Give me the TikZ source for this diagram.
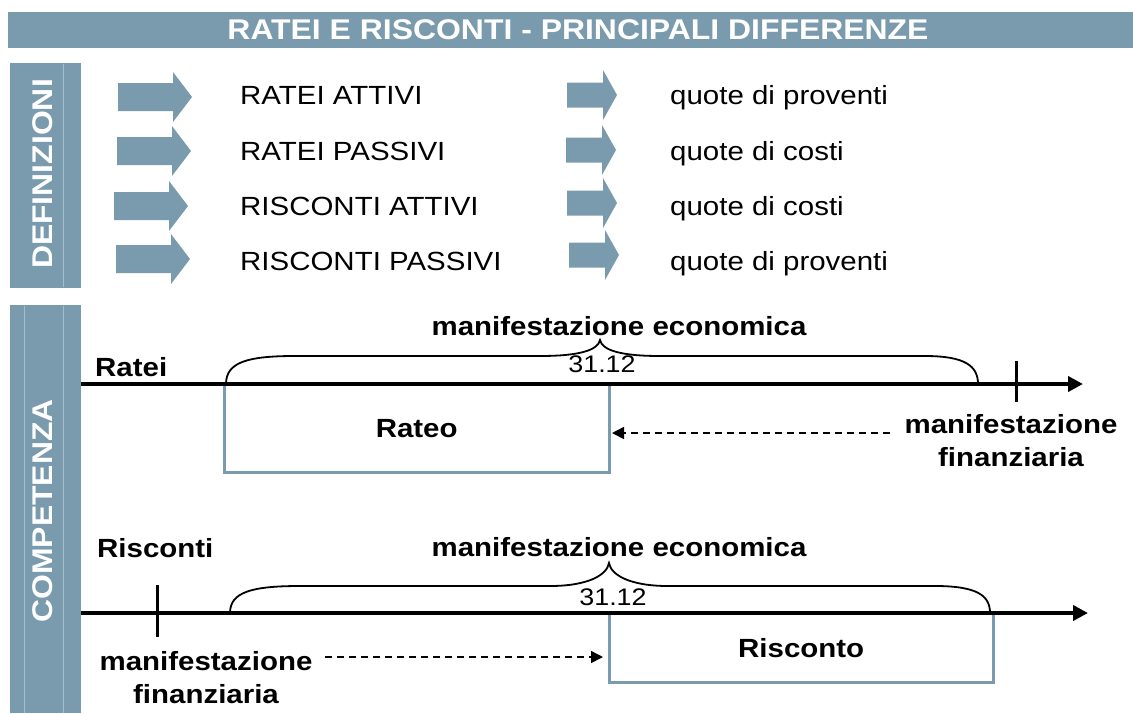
\documentclass[tikz,border=0pt]{standalone}
\usepackage{fontspec}
\setmainfont{Liberation Sans}[FakeStretch=1.12]
\usetikzlibrary{arrows.meta}
\definecolor{slate}{RGB}{122,155,173}
\definecolor{slateline}{RGB}{165,190,204}
\begin{document}
\begin{tikzpicture}[x=1pt,y=-1pt,
  bodytxt/.style={font=\fontsize{26.3}{30}\selectfont, inner sep=0pt},
  boldtxt/.style={font=\fontsize{26.3}{32.5}\selectfont\bfseries, inner sep=0pt, align=center},
  datetxt/.style={font=\fontsize{24}{28}\selectfont, inner sep=0pt},
  headtxt/.style={font=\fontsize{28.5}{32}\selectfont\bfseries, text=white, inner sep=0pt},
  bar/.style={fill=slate, inner sep=0pt, anchor=north west},
  timeline/.style={line width=4.5pt, -{Triangle[length=15pt,width=15pt]}},
  bracepath/.style={line width=1.8pt},
  boxside/.style={draw=slate, line width=3pt},
  finarrow/.style={line width=1.5pt, dash pattern=on 7pt off 5pt, -{Triangle[length=12pt,width=12pt]}},
  tickline/.style={line width=3pt},
  openbox/.style={inner sep=0pt, anchor=north west},
  bigarrow/.pic={\fill[slate] (0,-14) -- (55,-14) -- (55,-25) -- (74,0) -- (55,25) -- (55,14) -- (0,14) -- cycle;},
  smallarrow/.pic={\fill[slate] (0,-12.5) -- (36,-12.5) -- (36,-25) -- (50,0) -- (36,25) -- (36,12.5) -- (0,12.5) -- cycle;}
]
\useasboundingbox (0,0) rectangle (1133,713);
\fill[white] (0,0) rectangle (1133,713);

% header
\node[bar, minimum width=1125pt, minimum height=36pt] (header) at (8,12) {};
\node[headtxt] (title) at (578,30) {RATEI E RISCONTI - PRINCIPALI DIFFERENZE};

% side bars
\node[bar, minimum width=71pt, minimum height=225pt] (defbar) at (10,63) {};
\draw[slateline, line width=0.6pt] (63,64) -- (63,287);
\node[headtxt, rotate=90] (deftxt) at (43,174) {DEFINIZIONI};

\node[bar, minimum width=71pt, minimum height=408pt] (compbar) at (10,305) {};
\draw[slateline, line width=0.6pt] (63,306) -- (63,713);
\draw[slateline, line width=0.6pt] (24,306) -- (24,713);
\node[headtxt, rotate=90] (comptxt) at (43,511) {COMPETENZA};

% definitions
\pic at (118,97) {bigarrow};
\pic at (117,151) {bigarrow};
\pic at (114,206) {bigarrow};
\pic at (116,259) {bigarrow};
\pic at (567,95) {smallarrow};
\pic at (566,150) {smallarrow};
\pic at (567,203) {smallarrow};
\pic at (569,255) {smallarrow};

\node[bodytxt, anchor=base west] (ra) at (240,104.5) {RATEI ATTIVI};
\node[bodytxt, anchor=base west] (rp) at (240,160.5) {RATEI PASSIVI};
\node[bodytxt, anchor=base west] (sa) at (240,215) {RISCONTI ATTIVI};
\node[bodytxt, anchor=base west] (sp) at (240,270) {RISCONTI PASSIVI};
\node[bodytxt, anchor=base west] (q1) at (670,104.5) {quote di proventi};
\node[bodytxt, anchor=base west] (q2) at (670,160.5) {quote di costi};
\node[bodytxt, anchor=base west] (q3) at (670,215) {quote di costi};
\node[bodytxt, anchor=base west] (q4) at (670,270) {quote di proventi};

% ---- Ratei timeline
\node[openbox, minimum width=385pt, minimum height=88pt] (rateo) at (224,384) {};
\draw[boxside] (rateo.north west) -- (rateo.south west) -- (rateo.south east) -- (rateo.north east);
\node[boldtxt] (rateotxt) at (rateo.center) {Rateo};

\coordinate (t1s) at (81,384);
\coordinate (t1e) at (1083,384);
\draw[timeline] (t1s) -- (t1e);
\coordinate (k1a) at (1016,361);
\coordinate (k1b) at (1016,402);
\draw[tickline] (k1a) -- (k1b);

\draw[bracepath] (226,384) .. controls (226,362) and (248,356) .. (295,356) -- (540,356)
  .. controls (580,356) and (598,350) .. (600,340)
  .. controls (602,350) and (620,356) .. (660,356) -- (925,356)
  .. controls (965,356) and (978,366) .. (978,384);

\node[boldtxt, anchor=base west] (ratei) at (95,376) {Ratei};
\node[boldtxt, anchor=base] (eco1) at (619,335) {manifestazione economica};
\node[datetxt, anchor=base] (d1) at (602,372) {31.12};
\node[boldtxt, anchor=base] (fin1) at (1011,466) {manifestazione\\finanziaria};
\coordinate (a1s) at (890,433);
\coordinate (a1e) at (612,433);
\draw[finarrow] (a1s) -- (a1e);

% ---- Risconti timeline
\node[openbox, minimum width=384pt, minimum height=69pt] (risc) at (609,613) {};
\draw[boxside] (risc.north west) -- (risc.south west) -- (risc.south east) -- (risc.north east);
\node[boldtxt] (risctxt) at (risc.center) {Risconto};

\coordinate (t2s) at (81,613);
\coordinate (t2e) at (1088,613);
\draw[timeline] (t2s) -- (t2e);
\coordinate (k2a) at (157,585);
\coordinate (k2b) at (157,637);
\draw[tickline] (k2a) -- (k2b);

\draw[bracepath] (230,613) .. controls (230,592) and (252,586) .. (300,586) -- (550,586)
  .. controls (588,586) and (607,575) .. (609,563)
  .. controls (611,575) and (630,586) .. (668,586) -- (935,586)
  .. controls (978,586) and (990,596) .. (990,613);

\node[boldtxt, anchor=base west] (risconti) at (97,557) {Risconti};
\node[boldtxt, anchor=base] (eco2) at (619,556) {manifestazione economica};
\node[datetxt, anchor=base] (d2) at (613,605.5) {31.12};
\node[boldtxt, anchor=base] (fin2) at (206,703) {manifestazione\\finanziaria};
\coordinate (a2s) at (325,657);
\coordinate (a2e) at (603,657);
\draw[finarrow] (a2s) -- (a2e);
\end{tikzpicture}
\end{document}
